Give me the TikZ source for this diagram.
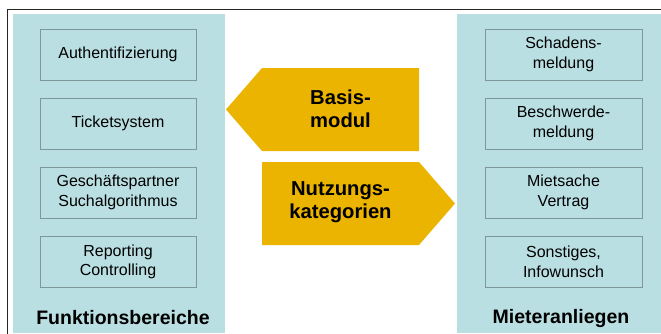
\documentclass[tikz,border=0pt]{standalone}
\usepackage{fontspec}
\setmainfont{Liberation Sans}
\definecolor{panelblue}{HTML}{B9DFE2}
\definecolor{boxline}{HTML}{7E9799}
\definecolor{arrowgold}{HTML}{EBB400}
\tikzset{
    panel/.style = {fill=panelblue, draw=none},
    item/.style = {draw=boxline, line width=0.9pt, minimum width=156pt, minimum height=51pt,
                   align=center, font=\fontsize{16}{19.5}\selectfont, inner sep=0pt},
    heading/.style = {font=\fontsize{19.5}{22}\selectfont\bfseries},
    arrowtext/.style = {font=\fontsize{20.2}{23}\selectfont\bfseries, align=center}
}

\begin{document}
\begin{tikzpicture}[x=1pt, y=-1pt]
    \useasboundingbox (0,0) rectangle (661,333);
    % Rahmen und Spalten
    \draw[line width=1.5pt, draw=black!85] (7.5,345) -- (7.5,9.5) -- (670,9.5);
    \fill[panel] (13,14) rectangle (225,333);
    \fill[panel] (457,14) rectangle (661,333);

    % linke Spalte
    \node[item] (auth)   at (118,54.5) {Authentifizierung};
    \node[item] (ticket) at (118,123.5) {Ticketsystem};
    \node[item] (gp)     at (118,192.5) {Geschäftspartner\\Suchalgorithmus};
    \node[item] (report) at (118,262) {Reporting\\Controlling};
    \node[heading] (funk) at (123,318) {Funktionsbereiche};

    % rechte Spalte
    \node[item, minimum width=157pt] (schaden) at (563.5,54.5) {Schadens-\\meldung};
    \node[item, minimum width=157pt] (beschw)  at (563.5,123.5) {Beschwerde-\\meldung};
    \node[item, minimum width=157pt] (miet)    at (563.5,192.5) {Mietsache\\Vertrag};
    \node[item, minimum width=157pt] (sonst)   at (563.5,262) {Sonstiges,\\Infowunsch};
    \node[heading] (mieter) at (561,318) {Mieteranliegen};

    % Pfeile
    \fill[arrowgold] (226,109.5) -- (262,68) -- (419,68) -- (419,151) -- (262,151) -- cycle;
    \node[arrowtext] (basis) at (340.5,108.5) {Basis-\\modul};
    \fill[arrowgold] (262,162) -- (419,162) -- (455,203.5) -- (419,245) -- (262,245) -- cycle;
    \node[arrowtext] (nutz) at (340.5,202.5) {Nutzungs-\\kategorien};
\end{tikzpicture}
\end{document}
